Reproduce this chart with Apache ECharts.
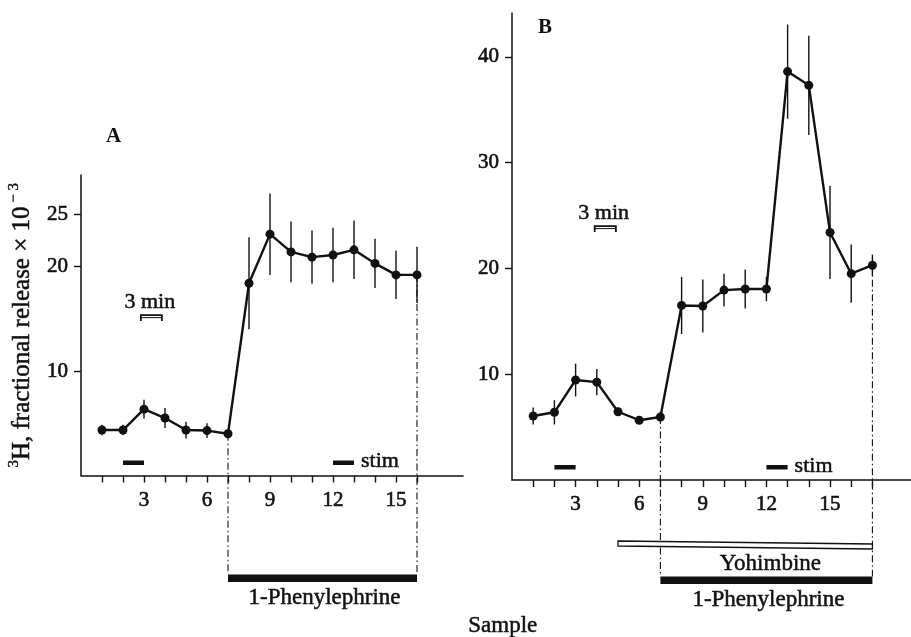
<!DOCTYPE html>
<html>
<head>
<meta charset="utf-8">
<script src="https://cdn.jsdelivr.net/npm/echarts@6/dist/echarts.min.js"></script>
<style>
  html, body { margin: 0; padding: 0; background: #fff; }
  #main { width: 911px; height: 637px; }
</style>
</head>
<body>
<div id="main"></div>
<script>
// ---- data ----
var samplesA = [1, 2, 3, 4, 5, 6, 7, 8, 9, 10, 11, 12, 13, 14, 15, 16];
var releaseA = [4.35, 4.35, 6.35, 5.5, 4.35, 4.3, 4.0, 18.4, 23.1, 21.4, 20.9, 21.1, 21.6, 20.3, 19.2, 19.2];
var errorA   = [0.5, 0.5, 0.9, 0.95, 0.8, 0.7, 0.3, 4.4, 3.9, 2.9, 2.55, 2.6, 2.8, 2.35, 2.3, 2.7];

var samplesB = [1, 2, 3, 4, 5, 6, 7, 8, 9, 10, 11, 12, 13, 14, 15, 16, 17];
var releaseB = [6.05, 6.4, 9.45, 9.25, 6.45, 5.65, 5.95, 16.5, 16.45, 17.95, 18.05, 18.05, 38.6, 37.3, 23.4, 19.5, 20.3];
var errorB   = [0.8, 1.15, 1.55, 1.25, 0.4, 0, 0.5, 2.7, 2.5, 1.55, 1.85, 1.15, 4.45, 4.7, 4.4, 2.75, 1.0];

var xTicksA = [1, 2, 3, 4, 5, 6, 7, 8, 9, 10, 11, 12, 13, 14, 15, 16];
var xTicksB = [1, 2, 3, 4, 5, 6, 7, 8, 9, 10, 11, 12, 13, 14, 15, 16, 17];
var xLabels = [3, 6, 9, 12, 15];
var yLabelsA = [10, 20, 25];
var yLabelsB = [10, 20, 30, 40];

var stimA = [[2, 3], [12, 13]];
var stimB = [[2, 3], [12, 13]];
var phenylephrineA = [7, 16];
var phenylephrineB = [7, 17];
var yohimbineB = [5, 17];
var threeMinA = [2.85, 3.85];
var threeMinB = [3.9, 4.9];

var FONT = '"Liberation Serif", "DejaVu Serif", serif';
var INK = '#111';

function pairs(xs, ys) {
    return xs.map(function (x, i) { return [x, ys[i]]; });
}
function bars(xs, ys, es) {
    return xs.map(function (x, i) { return [x, ys[i] - es[i], ys[i] + es[i]]; });
}

function errorRender(params, api) {
    var a = api.coord([api.value(0), api.value(1)]);
    var b = api.coord([api.value(0), api.value(2)]);
    return {
        type: 'line',
        shape: { x1: a[0], y1: a[1], x2: b[0], y2: b[1] },
        style: { stroke: INK, lineWidth: 1.4 }
    };
}

// stim marks, 3 min scale bar, drug bars and dash-dot guides of one panel
function annotations(o) {
    return function (params, api) {
        var base = api.coord([0, 0])[1];
        var kids = [];
        var txt = function (s, x, y, align, size) {
            kids.push({
                type: 'text',
                style: { text: s, x: x, y: y, font: (size || 23) + 'px ' + FONT, fill: INK,
                         stroke: INK, lineWidth: 0.5,
                         align: align || 'center', verticalAlign: 'middle' }
            });
        };
        // stim bars
        o.stim.forEach(function (s, i) {
            var x1 = api.coord([s[0], 0])[0], x2 = api.coord([s[1], 0])[0];
            kids.push({ type: 'rect', shape: { x: x1, y: base - 15, width: x2 - x1, height: 4.5 },
                        style: { fill: INK } });
            if (i === o.stim.length - 1) txt('stim', x2 + 7, base - 14, 'left', 22);
        });
        // 3 min scale bar
        var m1 = api.coord([o.scale[0], o.scaleLevel]);
        var m2 = api.coord([o.scale[1], o.scaleLevel]);
        kids.push({ type: 'polyline',
                    shape: { points: [[m1[0], m1[1] + 6], [m1[0], m1[1]], [m2[0], m1[1]], [m2[0], m1[1] + 6]] },
                    style: { stroke: INK, lineWidth: 1.8, fill: null } });
        kids.push({ type: 'line', shape: { x1: m1[0], y1: m1[1] + 2.5, x2: m2[0], y2: m1[1] + 2.5 },
                    style: { stroke: INK, lineWidth: 1 } });
        txt('3 min', m1[0] + 9, m1[1] - 12.5, 'center', 22);
        // dash-dot guides from the points down to the drug bar
        var barTop = base + o.barOffset;
        o.pheny.forEach(function (x) {
            var p = api.coord([x, o.release[o.samples.indexOf(x)]]);
            kids.push({ type: 'line', shape: { x1: p[0], y1: p[1], x2: p[0], y2: barTop },
                        style: { stroke: INK, lineWidth: 1.1, lineDash: [7, 3, 1.5, 3] } });
        });
        // yohimbine open bar
        if (o.yoh) {
            var y1 = api.coord([o.yoh[0], 0])[0], y2 = api.coord([o.yoh[1], 0])[0];
            kids.push({ type: 'polygon',
                        shape: { points: [[y1, base + 61], [y2, base + 64], [y2, base + 69], [y1, base + 66]] },
                        style: { fill: '#fff', stroke: INK, lineWidth: 1.3 } });
            var pc = (api.coord([o.pheny[0], 0])[0] + api.coord([o.pheny[1], 0])[0]) / 2;
            txt('Yohimbine', pc + 4, base + 83.5);
        }
        // phenylephrine solid bar
        var p1 = api.coord([o.pheny[0], 0])[0], p2 = api.coord([o.pheny[1], 0])[0];
        kids.push({ type: 'rect', shape: { x: p1, y: barTop, width: p2 - p1, height: 7.5 },
                    style: { fill: INK } });
        txt('1-Phenylephrine', (p1 + p2) / 2 + 2, barTop + 23);
        return { type: 'group', children: kids };
    };
}

var labelStyle = { fontSize: 21, fontFamily: FONT, color: INK, textBorderColor: INK, textBorderWidth: 0.6 };

function xAxis(idx, max, ticks) {
    return {
        type: 'value', gridIndex: idx, min: 0, max: max,
        axisLine: { show: true, onZero: false, lineStyle: { color: INK, width: 1.5 } },
        axisTick: { show: true, customValues: ticks, length: 7, lineStyle: { color: INK, width: 1.4 } },
        axisLabel: Object.assign({ customValues: xLabels, margin: 14 }, labelStyle),
        splitLine: { show: false }
    };
}
function yAxis(idx, max, labels, extra) {
    var ax = {
        type: 'value', gridIndex: idx, min: 0, max: max,
        axisLine: { show: true, onZero: false, lineStyle: { color: INK, width: 1.5 } },
        axisTick: { show: true, customValues: labels, length: 7, lineStyle: { color: INK, width: 1.4 } },
        axisLabel: Object.assign({ customValues: labels, margin: 13 }, labelStyle),
        splitLine: { show: false }
    };
    for (var k in extra) ax[k] = extra[k];
    return ax;
}

var chart = echarts.init(document.getElementById('main'), null, { renderer: 'canvas' });

var option = {
    backgroundColor: '#fff',
    animation: false,
    grid: [
        { left: 81, top: 175, width: 382, height: 300.5 },
        { left: 512, top: 13, width: 399, height: 467 }
    ],
    xAxis: [xAxis(0, 18.19, xTicksA), xAxis(1, 18.82, xTicksB)],
    yAxis: [
        yAxis(0, 28.76, yLabelsA, {
            name: '{sup|3}{m|H, fractional release × 10}{sup| − 3}',
            nameLocation: 'middle', nameRotate: 90, nameGap: 44,
            nameTextStyle: {
                fontFamily: FONT, color: INK, fontSize: 25,
                rich: {
                    m: { fontFamily: FONT, fontSize: 25, color: INK, lineHeight: 30,
                         textBorderColor: INK, textBorderWidth: 0.5 },
                    sup: { fontFamily: FONT, fontSize: 15, color: INK, verticalAlign: 'top', lineHeight: 30,
                           textBorderColor: INK, textBorderWidth: 0.4 }
                }
            }
        }),
        yAxis(1, 44.14, yLabelsB, {})
    ],
    graphic: [
        { type: 'text', left: 106, top: 126, style: { text: 'A', font: 'bold 21px ' + FONT, fill: INK } },
        { type: 'text', left: 538, top: 17, style: { text: 'B', font: 'bold 21px ' + FONT, fill: INK } },
        { type: 'text', left: 468, top: 614, style: { text: 'Sample', font: '23px ' + FONT, fill: INK,
                                                      stroke: INK, lineWidth: 0.5 } }
    ],
    series: [
        { type: 'custom', xAxisIndex: 0, yAxisIndex: 0, renderItem: errorRender,
          data: bars(samplesA, releaseA, errorA), z: 2 },
        { type: 'custom', xAxisIndex: 1, yAxisIndex: 1, renderItem: errorRender,
          data: bars(samplesB, releaseB, errorB), z: 2 },
        { type: 'line', xAxisIndex: 0, yAxisIndex: 0, data: pairs(samplesA, releaseA),
          symbol: 'circle', symbolSize: 9, itemStyle: { color: INK },
          lineStyle: { color: INK, width: 2.4 }, z: 3 },
        { type: 'line', xAxisIndex: 1, yAxisIndex: 1, data: pairs(samplesB, releaseB),
          symbol: 'circle', symbolSize: 9, itemStyle: { color: INK },
          lineStyle: { color: INK, width: 2.4 }, z: 3 },
        { type: 'custom', xAxisIndex: 0, yAxisIndex: 0, data: [[0, 0]], silent: true,
          renderItem: annotations({ samples: samplesA, release: releaseA, stim: stimA,
              scale: threeMinA, scaleLevel: 15.35, pheny: phenylephrineA, barOffset: 99 }) },
        { type: 'custom', xAxisIndex: 1, yAxisIndex: 1, data: [[0, 0]], silent: true,
          renderItem: annotations({ samples: samplesB, release: releaseB, stim: stimB,
              scale: threeMinB, scaleLevel: 24.0, pheny: phenylephrineB, yoh: yohimbineB, barOffset: 96.5 }) }
    ]
};

chart.setOption(option);
</script>
</body>
</html>
